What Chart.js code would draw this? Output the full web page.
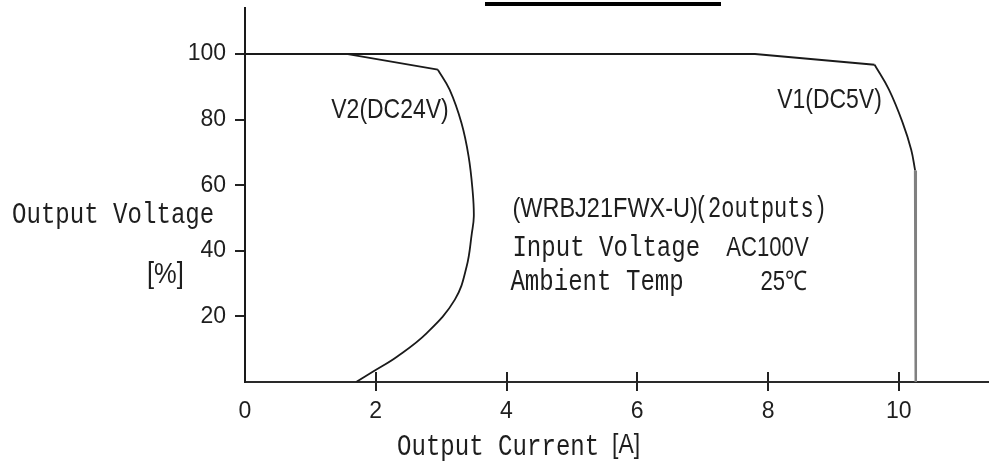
<!DOCTYPE html>
<html>
<head>
<meta charset="utf-8">
<script src="https://cdn.jsdelivr.net/npm/chart.js@4/dist/chart.umd.min.js"></script>
<style>
  html, body { margin: 0; padding: 0; background: #fff; }
  #wrap { position: relative; width: 989px; height: 468px; }
  #bar { position: absolute; left: 485px; top: 2px; width: 236px; height: 4px; background: #000; }
  canvas { position: absolute; left: 0; top: 0; }
</style>
</head>
<body>
<div id="wrap">
  <canvas id="c" width="989" height="468"></canvas>
  <div id="bar"></div>
</div>
<script>
// ---- Data ----
const xTicks = [0, 2, 4, 6, 8, 10];
const yTicks = [20, 40, 60, 80, 100];

// V1 (DC5V)
const v1FlatCurrent = [0, 7.8, 9.63];
const v1FlatVoltage = [100, 100, 96.7];
const v1KneeCurrent = [9.63, 9.85, 10.06, 10.19, 10.25];
const v1KneeVoltage = [96.7, 89.1, 79.0, 70.8, 64.5];
const v1DropCurrent = [10.25, 10.26];
const v1DropVoltage = [64.5, 0];

// V2 (DC24V)
const v2FlatCurrent = [1.55, 2.95];
const v2FlatVoltage = [100, 95.2];
const v2CurveCurrent = [2.95, 3.13, 3.31, 3.42, 3.48, 3.50, 3.47, 3.39, 3.21, 2.78, 2.33, 1.96, 1.70];
const v2CurveVoltage = [95.2, 89.1, 79.0, 68.8, 58.6, 50.5, 45.4, 35.2, 25.1, 14.9, 7.8, 3.2, 0];

// Texts
const seriesLabels = ['V1(DC5V)', 'V2(DC24V)'];
const infoLines = [
  ['(WRBJ21FWX-U)', '(2outputs)'],
  ['Input Voltage', 'AC100V'],
  ['Ambient Temp', '25℃']
];
const yTitle = ['Output Voltage', '[%]'];
const xTitle = ['Output Current', '[A]'];

// ---- Build ----
const pts = (xs, ys) => xs.map((v, i) => ({ x: v, y: ys[i] }));
const line = (data, opts) => Object.assign({
  data, showLine: true, pointRadius: 0, borderColor: '#1a1a1a',
  borderWidth: 1.8, tension: 0, fill: false
}, opts || {});

const SANS = '"Liberation Sans", Arial, sans-serif';
const MONO = '"Liberation Mono", "DejaVu Sans Mono", monospace';

// draw horizontally condensed text; returns drawn width
function txt(ctx, s, x, y, family, size, sx, align, fitWidth) {
  ctx.save();
  ctx.font = size + 'px ' + family;
  const nat = ctx.measureText(s).width;
  if (fitWidth) sx = fitWidth / nat;
  const w = nat * sx;
  const x0 = align === 'right' ? x - w : x;
  ctx.translate(x0, y);
  ctx.scale(sx, 1);
  ctx.textAlign = 'left';
  ctx.textBaseline = 'middle';
  ctx.fillText(s, 0, 0);
  ctx.restore();
  return w;
}

const textPlugin = {
  id: 'texts',
  afterDraw(chart) {
    const { ctx, chartArea, scales: { x, y } } = chart;
    ctx.save();
    ctx.fillStyle = '#1e1e1e';

    // crossing tick marks above the x axis
    ctx.strokeStyle = '#222';
    ctx.lineWidth = 2;
    xTicks.forEach(v => {
      if (v === 0) return;
      const px = Math.round(x.getPixelForValue(v));
      ctx.beginPath();
      ctx.moveTo(px, chartArea.bottom);
      ctx.lineTo(px, chartArea.bottom - 10);
      ctx.stroke();
    });

    // series labels
    txt(ctx, seriesLabels[0], x.getPixelForValue(8.14), y.getPixelForValue(85.8), SANS, 28, 0.82);
    txt(ctx, seriesLabels[1], x.getPixelForValue(1.32), y.getPixelForValue(82.7), SANS, 28, 0.82);

    // info block
    const left = x.getPixelForValue(4.09);
    const rows = [52.5, 40.6, 30.3].map(v => y.getPixelForValue(v));
    const w0 = txt(ctx, infoLines[0][0], left, rows[0], SANS, 28, 0.84);
    const start = left + w0 - 3;
    txt(ctx, infoLines[0][1], start, rows[0], MONO, 29, 0, 'left', x.getPixelForValue(8.90) - start);
    txt(ctx, infoLines[1][0], left, rows[1], MONO, 29, 0.83);
    txt(ctx, infoLines[2][0], left - 2, rows[2], MONO, 29, 0.83);
    txt(ctx, infoLines[1][1], x.getPixelForValue(7.36), rows[1], SANS, 27, 0.82);
    txt(ctx, infoLines[2][1], x.getPixelForValue(8.60), rows[2], SANS, 27, 0.82, 'right');

    // y title
    txt(ctx, yTitle[0], chartArea.left - 233, 215, MONO, 29, 0.83);
    txt(ctx, yTitle[1], chartArea.left - 98, 275, SANS, 29, 0.88);

    // x title
    txt(ctx, xTitle[0], 397, 447, MONO, 29, 0.83);
    txt(ctx, xTitle[1], 612, 445, SANS, 28, 0.82);
    ctx.restore();
  }
};

new Chart(document.getElementById('c'), {
  type: 'scatter',
  data: {
    datasets: [
      line(pts(v1FlatCurrent, v1FlatVoltage), { borderWidth: 2 }),
      line(pts(v1KneeCurrent, v1KneeVoltage), { tension: 0.4 }),
      line(pts(v1DropCurrent, v1DropVoltage), { borderColor: '#808080', borderWidth: 2.5 }),
      line(pts(v2FlatCurrent, v2FlatVoltage)),
      line(pts(v2CurveCurrent, v2CurveVoltage), { tension: 0.4 })
    ]
  },
  options: {
    responsive: false,
    animation: false,
    events: [],
    layout: { padding: { top: 8, right: 0, left: 0, bottom: 0 } },
    plugins: { legend: { display: false }, tooltip: { enabled: false } },
    scales: {
      x: {
        type: 'linear', position: 'bottom', min: 0, max: 11.38,
        afterBuildTicks: s => { s.ticks = xTicks.map(v => ({ value: v })); },
        afterFit: s => { s.height = 86; s.paddingLeft = 0; s.paddingRight = 0; },
        grid: {
          drawOnChartArea: false, drawTicks: true, tickLength: 9, lineWidth: 2,
          color: c => (c.tick && c.tick.value === 0) ? 'rgba(0,0,0,0)' : '#222'
        },
        border: { color: '#2a2a2a', width: 2 },
        ticks: { font: { family: SANS, size: 23 }, color: '#1e1e1e', padding: 7, maxRotation: 0, autoSkip: false }
      },
      y: {
        type: 'linear', min: 0, max: 114,
        afterBuildTicks: s => { s.ticks = yTicks.map(v => ({ value: v })); },
        afterFit: s => { s.width = 245; s.paddingTop = 0; s.paddingBottom = 0; },
        grid: { drawOnChartArea: false, drawTicks: true, tickLength: 10, lineWidth: 2, color: '#222' },
        border: { color: '#1a1a1a', width: 2 },
        ticks: { font: { family: SANS, size: 23 }, color: '#1e1e1e', padding: 9, autoSkip: false }
      }
    }
  },
  plugins: [textPlugin]
});
</script>
</body>
</html>
